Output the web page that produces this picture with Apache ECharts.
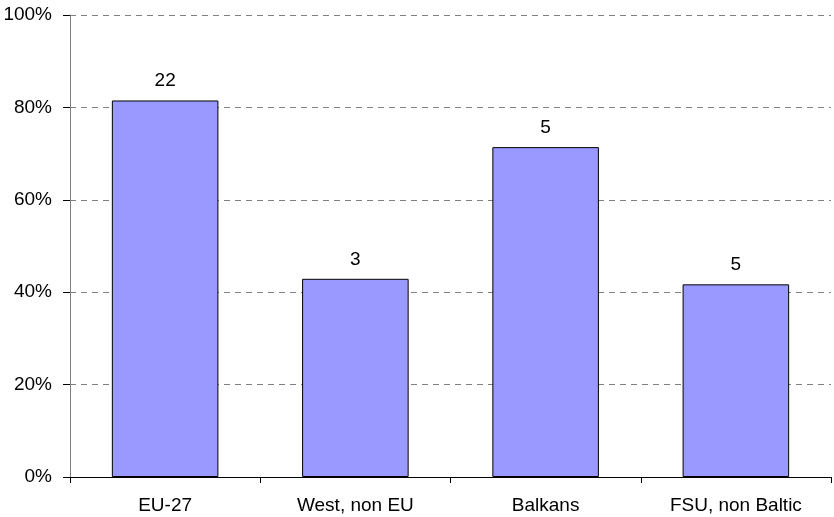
<!DOCTYPE html>
<html>
<head>
<meta charset="utf-8">
<script src="https://cdn.jsdelivr.net/npm/echarts@6/dist/echarts.min.js"></script>
<style>html,body{margin:0;padding:0;background:#fff;}#c{width:834px;height:517px;}</style>
</head>
<body>
<div id="c"></div>
<script>
const categories = ["EU-27", "West, non EU", "Balkans", "FSU, non Baltic"];
const shares = [81.5, 42.9, 71.4, 41.7];
const counts = [22, 3, 5, 5];
const yTicks = [0, 20, 40, 60, 80, 100];

const chart = echarts.init(document.getElementById('c'), null, {renderer: 'canvas'});
chart.setOption({
  animation: false,
  backgroundColor: '#fff',
  grid: {left: 70, right: 3, top: 15, bottom: 40, containLabel: false},
  xAxis: {
    type: 'category',
    data: categories,
    axisLine: {lineStyle: {color: '#000', width: 1}},
    axisTick: {show: true, length: 6, lineStyle: {color: '#000'}},
    axisLabel: {color: '#000', fontFamily: 'Liberation Sans, Arial', fontSize: 19, margin: 19}
  },
  yAxis: {
    type: 'value',
    min: yTicks[0], max: yTicks[yTicks.length - 1], interval: 20,
    axisLine: {show: true, lineStyle: {color: '#808080', width: 1}},
    axisTick: {show: true, length: 7, lineStyle: {color: '#000'}},
    axisLabel: {color: '#000', fontFamily: 'Liberation Sans, Arial', fontSize: 19, margin: 18, formatter: v => v + '%'},
    splitLine: {show: true, lineStyle: {color: '#808080', type: [6, 5], width: 1}}
  },
  series: [{
    type: 'bar',
    data: shares,
    barWidth: '56%',
    itemStyle: {color: '#9999FF', borderColor: '#000', borderWidth: 1},
    label: {
      show: true, position: 'top', distance: 10,
      color: '#000', fontFamily: 'Liberation Sans, Arial', fontSize: 19,
      formatter: p => String(counts[p.dataIndex])
    }
  }]
});
</script>
</body>
</html>
